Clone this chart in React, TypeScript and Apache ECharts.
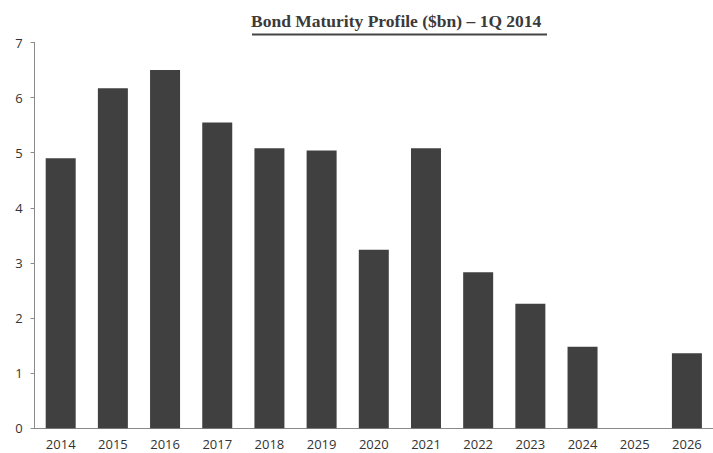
import React, { useEffect, useRef } from "react";
import * as echarts from "echarts";

const categories = ["2014", "2015", "2016", "2017", "2018", "2019", "2020", "2021", "2022", "2023", "2024", "2025", "2026"];
const maturities = [4.9, 6.17, 6.5, 5.55, 5.08, 5.04, 3.24, 5.08, 2.83, 2.26, 1.48, 0, 1.36];
const titleText = "Bond Maturity Profile ($bn) \u2013 1Q 2014";

export default function App() {
  const ref = useRef<HTMLDivElement>(null);
  useEffect(() => {
    if (!ref.current) return;
    const chart = echarts.init(ref.current, undefined, { renderer: "svg" });
    chart.setOption({
      animation: false,
      backgroundColor: "#ffffff",
      title: {
        text: titleText,
        left: 251,
        top: 10,
        padding: 0,
        textStyle: {
          fontFamily: "Liberation Serif",
          fontSize: 17.5,
          fontWeight: "bold",
          color: "#3a3a3a",
          lineHeight: 22,
        },
      },
      graphic: [
        {
          type: "line",
          shape: { x1: 252, y1: 34.5, x2: 547, y2: 34.5 },
          style: { stroke: "#444444", lineWidth: 2 },
        },
      ],
      grid: { left: 34.6, top: 42.5, width: 686, bottom: 24.7, containLabel: false },
      xAxis: {
        type: "category",
        data: categories,
        axisLine: { show: true, lineStyle: { color: "#8a8a8a", width: 1 } },
        axisTick: { show: false },
        axisLabel: {
          margin: 9,
          fontFamily: "Open Sans",
          fontSize: 13,
          lineHeight: 13,
          color: "#333333",
          interval: 0,
        },
      },
      yAxis: {
        type: "value",
        min: 0,
        max: 7,
        interval: 1,
        splitLine: { show: false },
        axisLine: { show: true, lineStyle: { color: "#8a8a8a", width: 1 } },
        axisTick: { show: true, inside: false, length: 4, lineStyle: { color: "#8a8a8a" } },
        axisLabel: {
          margin: 12,
          fontFamily: "Open Sans",
          fontSize: 13,
          color: "#333333",
        },
      },
      series: [
        {
          type: "bar",
          data: maturities,
          barWidth: 30,
          itemStyle: { color: "#404040" },
        },
      ],
    });
    return () => chart.dispose();
  }, []);
  return <div ref={ref} style={{ width: 713, height: 453, position: "absolute", left: 0, top: 0 }} />;
}
